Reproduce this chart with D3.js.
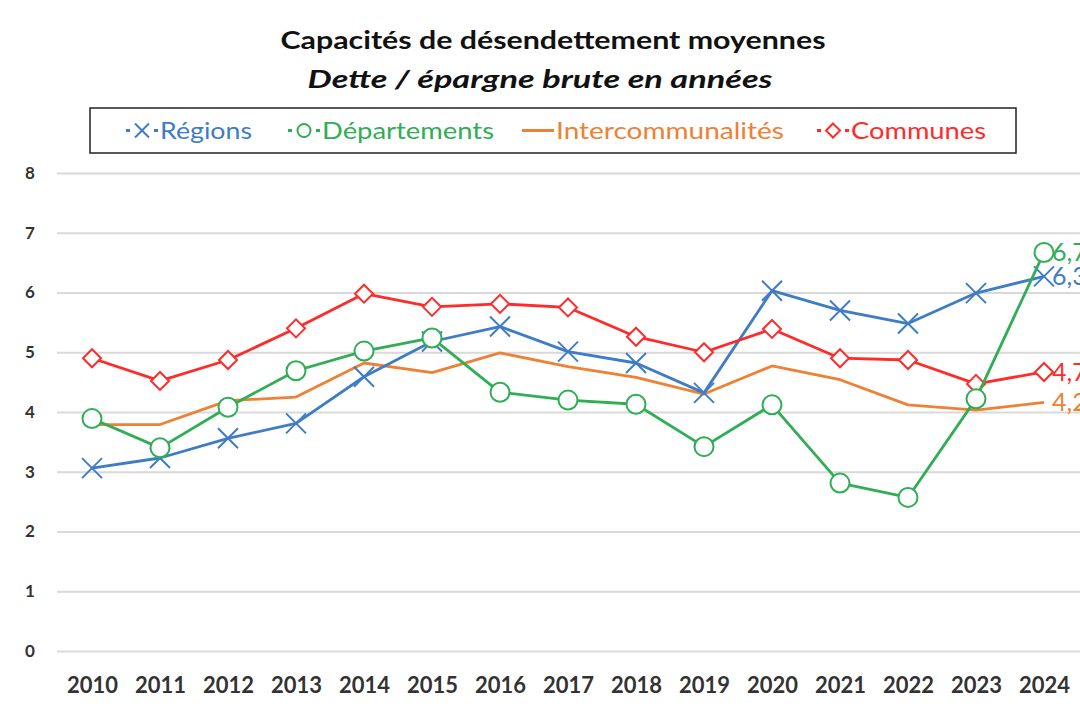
<!DOCTYPE html>
<html><head><meta charset="utf-8">
<script src="https://cdn.jsdelivr.net/npm/d3@7/dist/d3.min.js"></script>
<style>body{margin:0;background:#fff;}svg{display:block;font-family:Lato,"Open Sans",sans-serif;}</style>
</head><body><svg id="c" width="1080" height="708"></svg>
<script>
const years = ["2010","2011","2012","2013","2014","2015","2016","2017","2018","2019","2020","2021","2022","2023","2024"];
const regions = [3.06,3.23,3.56,3.81,4.59,5.18,5.43,5.01,4.82,4.32,6.03,5.70,5.48,5.99,6.27];
const departements = [3.89,3.40,4.08,4.69,5.02,5.24,4.33,4.20,4.13,3.42,4.12,2.81,2.57,4.22,6.67];
const intercommunalites = [3.79,3.79,4.19,4.25,4.82,4.66,4.99,4.76,4.58,4.30,4.77,4.54,4.12,4.03,4.16];
const communes = [4.90,4.52,4.87,5.40,5.98,5.76,5.81,5.75,5.26,5.00,5.39,4.90,4.87,4.47,4.67];
const yTicks = [0,1,2,3,4,5,6,7,8];
const lastLabels = ["6,3","6,7","4,2","4,7"];
const seriesNames = ["Régions","Départements","Intercommunalités","Communes"];

const colors = ["#3f7cc6","#2fae55","#ee8134","#ff2b2b"];
const markers = ["x","circle",null,"diamond"];
const seriesData = [regions, departements, intercommunalites, communes];

const svg = d3.select("#c");
const x = d3.scalePoint().domain(years).range([92,1044]);
const y = d3.scaleLinear().domain([0,8]).range([651,173]);

// title
svg.append("text").attr("x",553).attr("y",49).attr("text-anchor","middle")
  .attr("font-size",25).attr("font-weight","bold").attr("fill","#111")
  .attr("textLength",545).attr("lengthAdjust","spacingAndGlyphs").text("Capacités de désendettement moyennes");
svg.append("text").attr("x",540).attr("y",88).attr("text-anchor","middle")
  .attr("font-size",25).attr("font-weight","bold").attr("font-style","italic").attr("fill","#111")
  .attr("textLength",465).attr("lengthAdjust","spacingAndGlyphs").text("Dette / épargne brute en années");

// grid
const yAxis = d3.axisLeft(y).tickValues(yTicks).tickSize(-1030).tickFormat(d3.format("d"));
const gy = svg.append("g").attr("transform","translate(57,0)").call(yAxis);
gy.select(".domain").remove();
gy.selectAll(".tick line").attr("stroke","#d9d9d9").attr("stroke-width",2);
gy.selectAll(".tick text").attr("x",-27).attr("text-anchor","middle").attr("font-size",17).attr("font-weight","bold").attr("fill","#333").attr("font-family","Lato");

const xAxis = d3.axisBottom(x).tickSize(0);
const gx = svg.append("g").attr("transform","translate(0,680)").call(xAxis);
gx.select(".domain").remove();
gx.selectAll(".tick text").attr("font-size",22).attr("font-weight","bold").attr("fill","#333").attr("dy","0.6em").attr("y",0).attr("font-family","Lato");

function drawMarker(g, type, cx, cy, color, s) {
  if (type === "x") {
    g.append("path").attr("d",`M${cx-s},${cy-s}L${cx+s},${cy+s}M${cx-s},${cy+s}L${cx+s},${cy-s}`)
      .attr("stroke",color).attr("stroke-width",2).attr("fill","none");
  } else if (type === "circle") {
    g.append("circle").attr("cx",cx).attr("cy",cy).attr("r",s).attr("fill","#fff").attr("stroke",color).attr("stroke-width",2);
  } else if (type === "diamond") {
    g.append("path").attr("d",`M${cx},${cy-s}L${cx+s},${cy}L${cx},${cy+s}L${cx-s},${cy}Z`)
      .attr("fill","#fff").attr("stroke",color).attr("stroke-width",2);
  }
}

const line = d3.line().x((d,i)=>x(years[i])).y(d=>y(d));
const order = [2,0,3,1];
order.forEach(k => {
  const g = svg.append("g");
  g.append("path").datum(seriesData[k]).attr("d",line).attr("fill","none")
    .attr("stroke",colors[k]).attr("stroke-width",2.8).attr("stroke-linejoin","round");
  const size = markers[k]==="x" ? 10 : markers[k]==="circle" ? 9.5 : 9;
  if (markers[k]) seriesData[k].forEach((v,i)=>drawMarker(g, markers[k], x(years[i]), y(v), colors[k], size));
  const lv = seriesData[k][seriesData[k].length-1];
  g.append("text").attr("x",x(years[years.length-1])+8).attr("y",y(lv)).attr("dy","0.36em")
    .attr("font-size",25).attr("fill",colors[k]).text(lastLabels[k]);
});

// legend
const lg = svg.append("g");
lg.append("rect").attr("x",90).attr("y",108).attr("width",926).attr("height",45)
  .attr("fill","#fff").attr("stroke","#222").attr("stroke-width",1.5);
const legX = [126,288,522,817];
const legW = [92,172,228,135];
seriesNames.forEach((n,k)=>{
  const cx = legX[k]+16, cy = 130.5;
  lg.append("line").attr("x1",legX[k]).attr("x2",legX[k]+32).attr("y1",cy).attr("y2",cy)
    .attr("stroke",colors[k]).attr("stroke-width",3).attr("stroke-dasharray", markers[k]? "4,24,4":null);
  if (markers[k]) drawMarker(lg, markers[k], cx, cy, colors[k], markers[k]==="circle"?6.5:7);
  lg.append("text").attr("x",legX[k]+34).attr("y",cy).attr("dy","0.35em").attr("font-size",24)
    .attr("textLength",legW[k]).attr("lengthAdjust","spacingAndGlyphs")
    .attr("fill",colors[k]).text(n);
});
</script></body></html>
